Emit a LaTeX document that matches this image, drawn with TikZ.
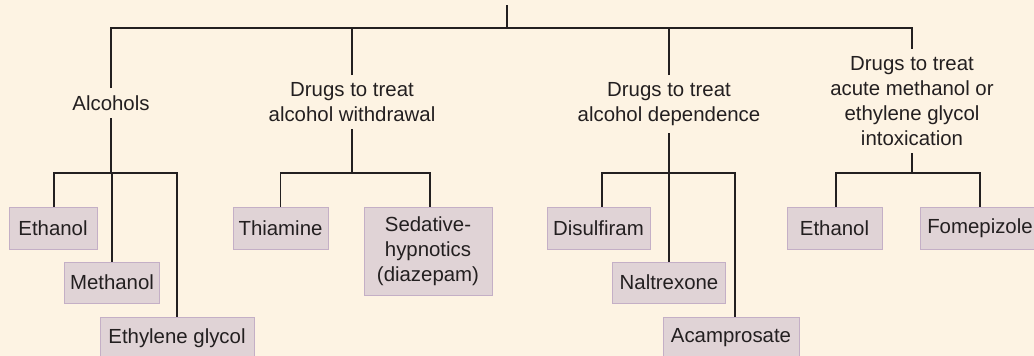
\documentclass[tikz,border=0pt]{standalone}
\usepackage{fontspec}
\setmainfont{Liberation Sans}
\definecolor{bg}{HTML}{FDF3E3}
\definecolor{boxfill}{HTML}{E0D3D6}
\definecolor{boxline}{HTML}{C4AFC6}
\definecolor{ink}{HTML}{231F20}
\begin{document}
\begin{tikzpicture}[x=1pt,y=-1pt,
  conn/.style={draw=ink,line width=1.3pt},
  lbl/.style={font=\fontsize{20.4}{24.8}\selectfont,text=ink,align=center,inner xsep=0pt,inner ysep=7.5pt,anchor=north},
  drug/.style={draw=boxline,line width=1pt,fill=boxfill,font=\fontsize{20.4}{24.8}\selectfont,text=ink,align=center,inner sep=0pt,anchor=center},
]
\fill[bg] (0,0) rectangle (1034,356);
\useasboundingbox (0,0) rectangle (1034,356);
\clip (0,0) rectangle (1034,356);

% level 1 labels
\node[lbl] (alc) at (111,88) {Alcohols};
\node[lbl] (wd) at (352,75) {Drugs to treat\\alcohol withdrawal};
\node[lbl] (dep) at (669,75) {Drugs to treat\\alcohol dependence};
\node[lbl] (acu) at (912,49) {Drugs to treat\\acute methanol or\\ethylene glycol\\intoxication};

% drug boxes
\node[drug,minimum width=88pt,minimum height=42pt] (eth1) at (53,228) {Ethanol};
\node[drug,minimum width=95pt,minimum height=41pt] (meth) at (112,282.5) {Methanol};
\node[drug,minimum width=154pt,minimum height=42pt] (eg) at (177,338) {Ethylene glycol};
\node[drug,minimum width=95pt,minimum height=42pt] (thia) at (280.5,228) {Thiamine};
\node[drug,minimum width=128pt,minimum height=88pt] (sed) at (428,251) {Sedative-\\hypnotics\\(diazepam)};
\node[drug,minimum width=103pt,minimum height=42pt] (dis) at (598.5,228) {Disulfiram};
\node[drug,minimum width=113pt,minimum height=41pt] (nal) at (669,282.5) {Naltrexone};
\node[drug,minimum width=136pt,minimum height=42pt] (aca) at (731,338) {Acamprosate};
\node[drug,minimum width=95pt,minimum height=42pt] (eth2) at (834.5,228) {Ethanol};
\node[drug,minimum width=120pt,minimum height=42pt] (fom) at (980,228) {Fomepizole};

% coordinates
\coordinate (top) at (507,5);
\coordinate (busT) at (507,28);
\coordinate (aB) at (111,173);
\coordinate (wB) at (352,173);
\coordinate (dB) at (669,173);
\coordinate (cB) at (912,173);

% top level
\draw[conn] (top) -- (busT);
\draw[conn] (alc.north) |- (busT) -| (acu.north);
\draw[conn] (wd.north) -- (wd.north |- busT);
\draw[conn] (dep.north) -- (dep.north |- busT);

% alcohols
\draw[conn] (alc.south) -- (aB);
\draw[conn] ([xshift=1pt]eth1.north) |- (aB) -| (eg.north);
\draw[conn] (meth.north) -- (meth.north |- aB);

% withdrawal
\draw[conn] (wd.south) -- (wB);
\draw[conn] (thia.north) |- (wB) -| ([xshift=2pt]sed.north);

% dependence
\draw[conn] (dep.south) -- (dB);
\draw[conn] ([xshift=3.5pt]dis.north) |- (dB) -| ([xshift=4pt]aca.north);
\draw[conn] (nal.north) -- (nal.north |- dB);

% acute
\draw[conn] (acu.south) -- (cB);
\draw[conn] ([xshift=1.5pt]eth2.north) |- (cB) -| (fom.north);
\end{tikzpicture}
\end{document}
